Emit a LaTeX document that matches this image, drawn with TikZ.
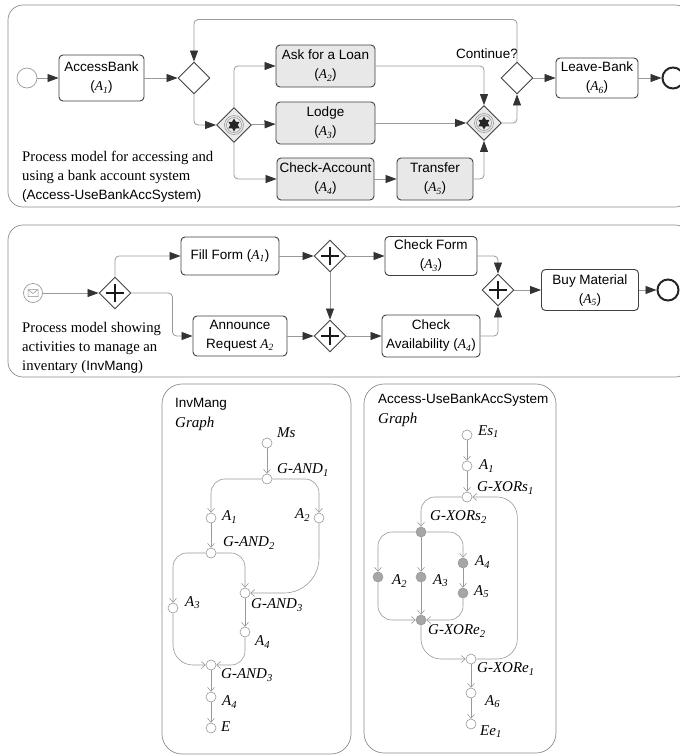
\documentclass[tikz,border=0pt]{standalone}
\usepackage{fontspec}
\setmainfont{Liberation Serif}
\setsansfont{Liberation Sans}
\usepackage{tikz}
\usetikzlibrary{arrows.meta,shapes.geometric}

\newcommand{\act}[1]{{\rmfamily\itshape A\textsubscript{#1}}}
\newcommand{\gl}[2]{\textit{#1}\textsubscript{\textit{#2}}}

\begin{document}
\begin{tikzpicture}[
    x=1pt, y=-1pt,
    panel/.style={draw=black!45, line width=0.7pt, rounded corners=15pt},
    task/.style={draw=black!75, line width=0.9pt, rounded corners=4pt, fill=white, align=center, inner sep=1pt, minimum height=42pt, font=\sffamily\fontsize{13.5}{19}\selectfont},
    task_grey/.style={task, fill=black!9},
    gateway/.style={diamond, draw=black!75, line width=0.9pt, fill=white, minimum size=32pt, inner sep=0pt},
    complex/.style={gateway, fill=black!8, minimum size=35pt, path picture={
        \begin{scope}[shift={(path picture bounding box.center)}]
            \draw[black!45, line width=0.5pt] (0,0) circle (9.5pt) (0,0) circle (7.5pt);
            \fill[black!85] (90:6.5pt) -- (210:6.5pt) -- (330:6.5pt) -- cycle (270:6.5pt) -- (30:6.5pt) -- (150:6.5pt) -- cycle;
        \end{scope}}},
    parallel/.style={gateway, path picture={
        \draw[black!90, line width=2.6pt] ([yshift=-9pt]path picture bounding box.center) -- ([yshift=9pt]path picture bounding box.center)
            ([xshift=-9pt]path picture bounding box.center) -- ([xshift=9pt]path picture bounding box.center);}},
    start_event/.style={circle, draw=black!40, line width=0.7pt, fill=white, minimum size=20pt, inner sep=0pt},
    msg_start/.style={start_event, minimum size=19pt, path picture={
        \draw[black!45, line width=0.5pt] ([shift={(-5pt,-3.5pt)}]path picture bounding box.center) rectangle ([shift={(5pt,3.5pt)}]path picture bounding box.center)
            ([shift={(-5pt,3.5pt)}]path picture bounding box.center) -- ([shift={(0pt,-0.5pt)}]path picture bounding box.center) -- ([shift={(5pt,3.5pt)}]path picture bounding box.center);}},
    end_event/.style={circle, draw=black!85, line width=2pt, fill=white, minimum size=21pt, inner sep=0pt},
    flow/.style={draw=black!40, line width=0.8pt, rounded corners=4pt, -{Triangle[length=11pt, width=8pt, color=black!80]}},
    ptext/.style={anchor=north west, align=left, inner sep=0pt, font=\fontsize{14.7}{19}\selectfont},
    gnode/.style={circle, draw=black!40, line width=0.6pt, fill=white, minimum size=10pt, inner sep=0pt},
    gnode_grey/.style={gnode, fill=black!35},
    gedge/.style={draw=black!40, line width=0.6pt, rounded corners=14pt, -{Straight Barb[length=4pt, width=7pt]}},
    glabel/.style={anchor=west, inner sep=0pt, font=\fontsize{15}{18}\selectfont},
    gtitle/.style={anchor=west, inner sep=0pt, font=\sffamily\fontsize{13.5}{16}\selectfont}
]
\useasboundingbox (0,0) rectangle (680,756);

% Bankmodell
\draw[panel] (8,5) rectangle (690,207);
\node[start_event] (s1) at (27,78) {};
\node[task, minimum width=85pt, minimum height=46pt] (a1) at (101.5,78) {AccessBank\\(\act{1})};
\node[gateway] (x1) at (194,78) {};
\node[complex] (c1) at (234,125) {};
\node[task_grey, minimum width=99pt] (a2) at (325.5,66) {Ask for a Loan\\(\act{2})};
\node[task_grey, minimum width=99pt] (a3) at (325.5,123) {Lodge\\(\act{3})};
\node[task_grey, minimum width=97pt] (a4) at (325.5,179) {Check-Account\\(\act{4})};
\node[task_grey, minimum width=76pt] (a5) at (435,179) {Transfer\\(\act{5})};
\node[complex] (c2) at (484,123) {};
\node[gateway] (x2) at (517,78) {};
\node[font=\sffamily\fontsize{13.5}{16}\selectfont, inner sep=0pt] (cont) at (487,54) {Continue?};
\node[task, minimum width=82pt, minimum height=40pt] (a6) at (597,78) {Leave-Bank\\(\act{6})};
\node[end_event] (e1) at (673,78) {};
\node[ptext] (t1) at (22,151) {Process model for accessing and\\using a bank account system\\{\sffamily\fontsize{13.5}{19}\selectfont(Access-UseBankAccSystem)}};

\draw[flow] (s1) -- (a1);
\draw[flow] (a1) -- (x1);
\draw[flow] (x1.south) |- (c1.west);
\draw[flow] (c1.north) |- (a2.west);
\draw[flow] (c1) -- (a3);
\draw[flow] (c1.south) |- (a4.west);
\draw[flow] (a4) -- (a5);
\draw[flow] (a2.east) -| (c2.north);
\draw[flow] (a3) -- (c2);
\draw[flow] (a5.east) -| (c2.south);
\draw[flow] (c2.east) -| (x2.south);
\draw[flow] (x2.north) -- ++(0,-42) -| (x1.north);
\draw[flow] (x2) -- (a6);
\draw[flow] (a6) -- (e1);

% Inventarmodell
\draw[panel] (8,225) rectangle (690,377);
\node[msg_start] (s2) at (33,293) {};
\node[parallel] (p1) at (115,293) {};
\node[task, minimum width=98pt, minimum height=38pt] (ff) at (230,256) {Fill Form (\act{1})};
\node[task, minimum width=94pt, minimum height=40pt] (ar) at (240,336) {Announce\\Request \act{2}};
\node[parallel] (p2) at (330,256) {};
\node[parallel] (p3) at (330,336) {};
\node[task, minimum width=92pt, minimum height=39pt] (cf) at (431,256) {Check Form\\(\act{3})};
\node[task, minimum width=98pt, minimum height=42pt] (ca) at (431,336) {Check\\Availability (\act{4})};
\node[parallel] (p4) at (498,290) {};
\node[task, minimum width=97pt, minimum height=41pt] (bm) at (590,290) {Buy Material\\(\act{5})};
\node[end_event] (e2) at (668,290) {};
\node[ptext] (t2) at (22,322) {Process model showing\\activities to manage an\\inventary ({\sffamily\fontsize{13.5}{19}\selectfont InvMang})};

\draw[flow] (s2) -- (p1);
\draw[flow] (p1.north) |- (ff.west);
\draw[flow] (p1.east) -- ++(41,0) |- (ar.west);
\draw[flow] (ff) -- (p2);
\draw[flow] (ar) -- (p3);
\draw[flow] (p2) -- (p3);
\draw[flow] (p2) -- (cf);
\draw[flow] (p3) -- (ca);
\draw[flow] (cf.east) -| (p4.north);
\draw[flow] (ca.east) -| (p4.south);
\draw[flow] (p4) -- (bm);
\draw[flow] (bm) -- (e2);

% Graph InvMang
\draw[panel, rounded corners=20pt] (162,384) rectangle (351,754);
\node[gtitle] (inv_t) at (175,404) {InvMang};
\node[glabel] (inv_g) at (175,424) {\textit{Graph}};
\node[gnode] (ms) at (267,443) {};
\node[gnode] (gand1) at (267,479) {};
\node[gnode] (ga1) at (211,518) {};
\node[gnode] (ga2) at (319,518) {};
\node[gnode] (gand2) at (211,553) {};
\node[gnode] (ga3) at (173,608) {};
\node[gnode] (gand3) at (245,593) {};
\node[gnode] (ga4) at (245,632) {};
\node[gnode] (gand3b) at (211,665) {};
\node[gnode] (ga4b) at (211,697) {};
\node[gnode] (ge) at (211,728) {};
\node[glabel] (l_ms) at (277,433) {\textit{Ms}};
\node[glabel] (l_gand1) at (277,470) {\gl{G-AND}{1}};
\node[glabel] (l_ga1) at (222,517) {\gl{A}{1}};
\node[glabel] (l_ga2) at (295,515) {\gl{A}{2}};
\node[glabel] (l_gand2) at (223,543) {\gl{G-AND}{2}};
\node[glabel] (l_ga3) at (185,603) {\gl{A}{3}};
\node[glabel] (l_gand3) at (251,605) {\gl{G-AND}{3}};
\node[glabel] (l_ga4) at (255,642) {\gl{A}{4}};
\node[glabel] (l_gand3b) at (221,675) {\gl{G-AND}{3}};
\node[glabel] (l_ga4b) at (222,702) {\gl{A}{4}};
\node[glabel] (l_ge) at (221,727) {\textit{E}};

\draw[gedge] (ms) -- (gand1);
\draw[gedge] (gand1.west) -| (ga1.north);
\draw[gedge] (gand1.east) -| (ga2.north);
\draw[gedge] (ga1) -- (gand2);
\draw[gedge] (gand2.west) -| (ga3.north);
\draw[gedge] (gand2.east) -| (gand3.north);
\draw[gedge, rounded corners=35pt] (ga2.south) |- (gand3.east);
\draw[gedge] (gand3) -- (ga4);
\draw[gedge, rounded corners=20pt] (ga3.south) |- (gand3b.west);
\draw[gedge] (ga4.south) |- (gand3b.east);
\draw[gedge] (gand3b) -- (ga4b);
\draw[gedge] (ga4b) -- (ge);

% Graph Access-UseBankAccSystem
\draw[panel, rounded corners=20pt] (364,384) rectangle (556,753);
\node[gtitle] (acc_t) at (378,400) {Access-UseBankAccSystem};
\node[glabel] (acc_g) at (378,420) {\textit{Graph}};
\node[gnode] (es1) at (467,435) {};
\node[gnode] (ra1) at (467,466) {};
\node[gnode] (xs1) at (467,497) {};
\node[gnode_grey] (xs2) at (421,532) {};
\node[gnode_grey] (ra2) at (378,577) {};
\node[gnode_grey] (ra3) at (421,577) {};
\node[gnode_grey] (ra4) at (463,563) {};
\node[gnode_grey] (ra5) at (463,593) {};
\node[gnode_grey] (xe2) at (421,620) {};
\node[gnode] (xe1) at (471,659) {};
\node[gnode] (ra6) at (471,693) {};
\node[gnode] (ee1) at (471,724) {};
\node[glabel] (l_es1) at (478,432) {\gl{Es}{1}};
\node[glabel] (l_ra1) at (479,466) {\gl{A}{1}};
\node[glabel] (l_xs1) at (477,488) {\gl{G-XORs}{1}};
\node[glabel] (l_xs2) at (430,517) {\gl{G-XORs}{2}};
\node[glabel] (l_ra4) at (475,562) {\gl{A}{4}};
\node[glabel] (l_ra2) at (392,581) {\gl{A}{2}};
\node[glabel] (l_ra3) at (433,581) {\gl{A}{3}};
\node[glabel] (l_ra5) at (474,592) {\gl{A}{5}};
\node[glabel] (l_xe2) at (428,631) {\gl{G-XORe}{2}};
\node[glabel] (l_xe1) at (477,669) {\gl{G-XORe}{1}};
\node[glabel] (l_ra6) at (485,702) {\gl{A}{6}};
\node[glabel] (l_ee1) at (480,732) {\gl{Ee}{1}};

\draw[gedge] (es1) -- (ra1);
\draw[gedge] (ra1) -- (xs1);
\draw[gedge] (xs1.west) -| (xs2.north);
\draw[gedge] (xs2.west) -| (ra2.north);
\draw[gedge] (xs2) -- (ra3);
\draw[gedge] (xs2.east) -| (ra4.north);
\draw[gedge] (ra4) -- (ra5);
\draw[gedge] (ra2.south) |- (xe2.west);
\draw[gedge] (ra3) -- (xe2);
\draw[gedge] (ra5.south) |- (xe2.east);
\draw[gedge, rounded corners=20pt] (xe2.south) |- (xe1.west);
\draw[gedge, rounded corners=20pt] (xe1.east) -- ++(41,0) |- (xs1.east);
\draw[gedge] (xe1) -- (ra6);
\draw[gedge] (ra6) -- (ee1);

\end{tikzpicture}
\end{document}
